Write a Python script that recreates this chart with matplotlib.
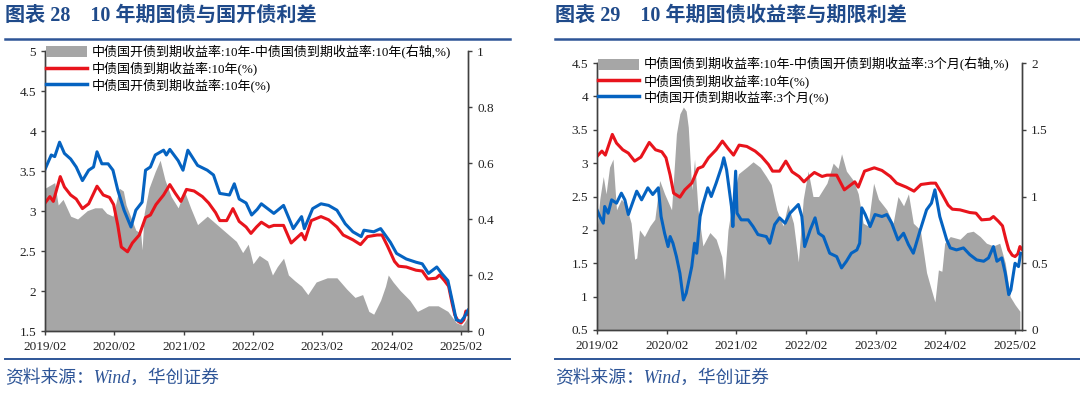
import numpy as np
import matplotlib.pyplot as plt
from matplotlib.patches import Patch
from matplotlib.lines import Line2D
from matplotlib.ticker import FuncFormatter

plt.rcParams['font.family'] = ['Liberation Serif', 'Noto Sans CJK SC']
plt.rcParams['axes.unicode_minus'] = False

# x axis: years elapsed since 2019/02
year_ticks = [0, 1, 2, 3, 4, 5, 6]
year_labels = ["2019/02", "2020/02", "2021/02", "2022/02", "2023/02", "2024/02", "2025/02"]

# 中债国债到期收益率:10年 (shared by both panels)
t_cgb10 = [0.00, 0.07, 0.12, 0.22, 0.28, 0.37, 0.45, 0.54, 0.63, 0.75, 0.84, 0.93, 0.99,
           1.05, 1.10, 1.19, 1.26, 1.36, 1.45, 1.52, 1.60, 1.71, 1.80, 1.88, 1.96, 2.04,
           2.15, 2.27, 2.36, 2.46, 2.52, 2.62, 2.71, 2.80, 2.90, 2.97, 3.05, 3.12, 3.23,
           3.30, 3.44, 3.55, 3.65, 3.70, 3.75, 3.84, 3.98, 4.09, 4.21, 4.30, 4.44, 4.55,
           4.65, 4.79, 4.86, 4.94, 5.04, 5.10, 5.21, 5.35, 5.44, 5.52, 5.64, 5.69, 5.76,
           5.82, 5.87, 5.91, 5.96, 6.00, 6.04, 6.07, 6.10]
cgb10 = [3.10, 3.18, 3.12, 3.43, 3.30, 3.20, 3.15, 3.03, 3.09, 3.31, 3.20, 3.17, 3.08,
         2.82, 2.55, 2.49, 2.60, 2.70, 2.92, 2.95, 3.08, 3.20, 3.33, 3.22, 3.12, 3.27,
         3.25, 3.18, 3.10, 2.98, 2.88, 2.88, 3.03, 2.87, 2.80, 2.72, 2.80, 2.86, 2.80,
         2.82, 2.82, 2.60, 2.68, 2.72, 2.64, 2.88, 2.93, 2.89, 2.80, 2.70, 2.64, 2.58,
         2.68, 2.70, 2.70, 2.56, 2.37, 2.31, 2.30, 2.26, 2.25, 2.15, 2.16, 2.20, 2.13,
         2.06, 1.85, 1.70, 1.62, 1.60, 1.64, 1.75, 1.71]

# 中债国开债到期收益率:10年
t_cdb10 = [0.00, 0.05, 0.09, 0.14, 0.21, 0.28, 0.37, 0.45, 0.54, 0.63, 0.70, 0.75, 0.82,
           0.91, 0.98, 1.05, 1.14, 1.24, 1.31, 1.40, 1.45, 1.52, 1.59, 1.71, 1.75, 1.80,
           1.92, 1.99, 2.06, 2.20, 2.34, 2.43, 2.52, 2.66, 2.73, 2.80, 2.90, 2.98, 3.06,
           3.12, 3.21, 3.30, 3.44, 3.58, 3.70, 3.74, 3.86, 3.98, 4.09, 4.21, 4.33, 4.44,
           4.56, 4.60, 4.74, 4.84, 4.98, 5.07, 5.21, 5.35, 5.44, 5.53, 5.65, 5.72, 5.81,
           5.88, 5.93, 6.00, 6.05, 6.10]
cdb10 = [3.52, 3.62, 3.70, 3.68, 3.86, 3.72, 3.65, 3.55, 3.38, 3.51, 3.55, 3.74, 3.59,
         3.59, 3.51, 3.26, 3.01, 2.80, 3.01, 3.11, 3.51, 3.55, 3.70, 3.76, 3.70, 3.77,
         3.63, 3.51, 3.76, 3.57, 3.51, 3.45, 3.22, 3.20, 3.34, 3.15, 3.10, 2.95, 3.02,
         3.09, 3.03, 2.97, 3.07, 2.78, 2.93, 2.78, 3.03, 3.09, 3.07, 3.01, 2.84, 2.74,
         2.68, 2.76, 2.74, 2.78, 2.61, 2.47, 2.40, 2.36, 2.34, 2.22, 2.30, 2.22, 2.13,
         1.85, 1.64, 1.62, 1.68, 1.76]

# 国开10年 - 国债10年 (right axis)
t_spread10 = [0.00, 0.07, 0.14, 0.19, 0.26, 0.37, 0.47, 0.61, 0.72, 0.82, 0.89, 0.98,
              1.07, 1.13, 1.17, 1.31, 1.38, 1.40, 1.43, 1.50, 1.59, 1.66, 1.73, 1.82,
              1.92, 2.01, 2.10, 2.20, 2.34, 2.48, 2.62, 2.76, 2.85, 2.93, 3.00, 3.09,
              3.21, 3.28, 3.35, 3.44, 3.51, 3.60, 3.70, 3.79, 3.91, 4.07, 4.21, 4.35,
              4.47, 4.58, 4.67, 4.74, 4.84, 4.91, 4.95, 5.02, 5.12, 5.26, 5.37, 5.53,
              5.67, 5.81, 5.93, 6.02, 6.10]
spread10 = [0.51, 0.52, 0.53, 0.45, 0.47, 0.41, 0.40, 0.43, 0.44, 0.44, 0.42, 0.41,
            0.51, 0.50, 0.45, 0.36, 0.35, 0.29, 0.42, 0.51, 0.57, 0.61, 0.54, 0.48,
            0.44, 0.50, 0.44, 0.38, 0.41, 0.38, 0.35, 0.32, 0.28, 0.31, 0.24, 0.27,
            0.25, 0.20, 0.23, 0.26, 0.20, 0.18, 0.16, 0.13, 0.175, 0.19, 0.19, 0.15,
            0.12, 0.13, 0.07, 0.06, 0.11, 0.16, 0.20, 0.175, 0.145, 0.11, 0.07, 0.09,
            0.09, 0.07, 0.03, 0.02, 0.05]

# 中债国开债到期收益率:3个月
t_cdb3m = [0.00, 0.04, 0.09, 0.11, 0.16, 0.21, 0.28, 0.35, 0.40, 0.45, 0.57, 0.64, 0.73,
           0.80, 0.88, 0.92, 0.97, 1.02, 1.05, 1.09, 1.14, 1.19, 1.24, 1.28, 1.36, 1.40,
           1.43, 1.48, 1.52, 1.59, 1.64, 1.71, 1.79, 1.82, 1.86, 1.93, 1.95, 1.99, 2.01,
           2.07, 2.17, 2.24, 2.31, 2.43, 2.48, 2.55, 2.62, 2.70, 2.77, 2.89, 2.94, 2.98,
           3.06, 3.13, 3.18, 3.25, 3.34, 3.44, 3.51, 3.58, 3.65, 3.73, 3.77, 3.80, 3.85,
           3.92, 3.99, 4.09, 4.16, 4.23, 4.32, 4.40, 4.47, 4.54, 4.64, 4.73, 4.80, 4.85,
           4.92, 5.02, 5.07, 5.16, 5.26, 5.35, 5.45, 5.55, 5.62, 5.69, 5.74, 5.81, 5.86,
           5.91, 5.94, 6.00, 6.05, 6.08]
cdb3m = [2.30, 2.20, 2.10, 2.35, 2.25, 2.45, 2.40, 2.55, 2.45, 2.23, 2.58, 2.45, 2.63,
         2.53, 2.63, 2.20, 1.95, 1.75, 1.90, 1.80, 1.60, 1.35, 0.95, 1.05, 1.45, 1.80,
         1.65, 2.20, 2.38, 2.63, 2.50, 2.70, 2.95, 3.08, 2.90, 2.35, 2.05, 2.88, 2.25,
         2.15, 2.15, 2.05, 1.93, 1.90, 1.80, 2.08, 2.18, 2.10, 2.25, 2.38, 2.20, 1.75,
         2.00, 2.18, 1.95, 1.90, 1.65, 1.60, 1.43, 1.53, 1.65, 1.70, 1.80, 2.33, 2.23,
         2.05, 2.23, 2.20, 2.23, 2.10, 1.85, 1.95, 1.78, 1.65, 2.00, 2.30, 2.40, 2.60,
         2.20, 1.85, 1.73, 1.70, 1.73, 1.63, 1.55, 1.53, 1.58, 1.75, 1.53, 1.58, 1.35,
         1.03, 1.10, 1.50, 1.45, 1.65]

# 国债10年 - 国开3个月 (right axis)
t_term = [0.00, 0.04, 0.09, 0.13, 0.18, 0.23, 0.28, 0.35, 0.42, 0.49, 0.54, 0.57, 0.61,
          0.68, 0.76, 0.83, 0.90, 0.97, 1.07, 1.14, 1.19, 1.24, 1.28, 1.31, 1.36, 1.40,
          1.45, 1.52, 1.62, 1.71, 1.79, 1.83, 1.88, 1.95, 2.03, 2.15, 2.24, 2.34, 2.43,
          2.50, 2.58, 2.67, 2.74, 2.82, 2.89, 2.96, 3.03, 3.10, 3.18, 3.30, 3.39, 3.46,
          3.51, 3.58, 3.68, 3.75, 3.82, 3.89, 3.97, 4.04, 4.16, 4.25, 4.32, 4.40, 4.47,
          4.54, 4.64, 4.73, 4.80, 4.85, 4.90, 4.95, 4.99, 5.07, 5.21, 5.31, 5.40, 5.50,
          5.59, 5.69, 5.78, 5.86, 5.93, 6.00, 6.07]
term = [0.75, 0.98, 1.15, 1.02, 1.22, 1.28, 0.90, 0.98, 0.93, 0.80, 0.53, 0.54, 0.75,
        0.70, 0.78, 0.83, 1.12, 1.02, 0.90, 1.47, 1.62, 1.67, 1.64, 1.52, 1.05, 1.28,
        0.90, 0.63, 0.73, 0.68, 0.55, 0.375, 0.75, 0.98, 1.17, 1.22, 1.26, 1.22, 1.15,
        1.09, 0.90, 0.78, 0.94, 0.80, 0.51, 0.98, 1.19, 1.00, 1.00, 1.10, 1.25, 1.21,
        1.32, 1.19, 1.12, 1.02, 0.80, 0.78, 1.10, 0.98, 0.90, 0.80, 1.00, 0.93, 1.02,
        0.80, 0.75, 0.43, 0.30, 0.21, 0.45, 0.44, 0.65, 0.70, 0.68, 0.73, 0.74, 0.70,
        0.65, 0.63, 0.65, 0.50, 0.25, 0.19, 0.14]

RED = '#E8141C'
BLUE = '#0563C1'
GREY = '#A6A6A6'
NAVY = '#1F4A8A'
RULE = '#2E5597'
fmt = FuncFormatter(lambda v, p: f"{v:g}")


def panel(rect, yl, yr, lticks, rticks, grey_t, grey_v, blue_t, blue_v, labels):
    ax = fig.add_axes(rect)
    ax2 = ax.twinx()
    ax2.fill_between(grey_t, 0, grey_v, color=GREY, lw=0)
    ax.plot(t_cgb10, cgb10, color=RED, lw=2.2)
    ax.plot(blue_t, blue_v, color=BLUE, lw=2.2)
    ax.set_zorder(ax2.get_zorder() + 1)
    ax.patch.set_visible(False)
    ax.set_xlim(0, 6.1)
    ax.set_ylim(*yl)
    ax2.set_ylim(*yr)
    ax.set_yticks(lticks)
    ax2.set_yticks(rticks)
    ax.yaxis.set_major_formatter(fmt)
    ax2.yaxis.set_major_formatter(fmt)
    ax.set_xticks(year_ticks)
    ax.set_xticklabels(year_labels)
    for a in (ax, ax2):
        a.spines['top'].set_visible(False)
        for s in ('left', 'right', 'bottom'):
            a.spines[s].set_color('#404040')
            a.spines[s].set_linewidth(1.0)
        a.tick_params(labelsize=9.5, length=3, width=1, color='#404040', labelcolor='#222222')
    ax.tick_params(axis='x', pad=4)
    handles = [Patch(facecolor=GREY, edgecolor='none'),
               Line2D([], [], color=RED, lw=2.5),
               Line2D([], [], color=BLUE, lw=2.5)]
    ax.legend(handles, labels, loc='upper left', bbox_to_anchor=(0.0, 1.025),
              frameon=False, fontsize=9.4, handlelength=3.1, handleheight=0.9,
              handletextpad=0.35, labelspacing=0.18, borderaxespad=0, borderpad=0.1)
    return ax


fig = plt.figure(figsize=(10.8, 3.94), dpi=100)

panel([45 / 1080, 63 / 394, 423 / 1080, 280 / 394], (1.5, 5), (0, 1),
      np.arange(1.5, 5.01, 0.5), np.arange(0, 1.01, 0.2),
      t_spread10, spread10, t_cdb10, cdb10,
      ["中债国开债到期收益率:10年-中债国债到期收益率:10年(右轴,%)",
       "中债国债到期收益率:10年(%)",
       "中债国开债到期收益率:10年(%)"])

panel([597 / 1080, 64 / 394, 425 / 1080, 267 / 394], (0.5, 4.5), (0, 2),
      np.arange(0.5, 4.51, 0.5), np.arange(0, 2.01, 0.5),
      t_term, term, t_cdb3m, cdb3m,
      ["中债国债到期收益率:10年-中债国开债到期收益率:3个月(右轴,%)",
       "中债国债到期收益率:10年(%)",
       "中债国开债到期收益率:3个月(%)"])

# headers, rules and source notes
fig.text(5 / 1080, 1 - 16 / 394, "图表 28    10 年期国债与国开债利差", color=NAVY,
         fontsize=14.5, fontweight='bold', va='center', ha='left')
fig.text(555 / 1080, 1 - 16 / 394, "图表 29    10 年期国债收益率与期限利差", color=NAVY,
         fontsize=14.5, fontweight='bold', va='center', ha='left')
for x0, x1 in ((5, 510), (555, 1080)):
    fig.add_artist(Line2D([x0 / 1080, x1 / 1080], [1 - 39 / 394] * 2, color=RULE, lw=1.8))
    fig.add_artist(Line2D([x0 / 1080, x1 / 1080], [1 - 359 / 394] * 2, color=RULE, lw=1.4))
fig.text(5 / 1080, 1 - 378 / 394, "资料来源：Wind，华创证券", color=RULE,
         fontsize=12.8, style='italic', va='center', ha='left')
fig.text(555 / 1080, 1 - 378 / 394, "资料来源：Wind，华创证券", color=RULE,
         fontsize=12.8, style='italic', va='center', ha='left')

fig.savefig("out.png", dpi=100)
